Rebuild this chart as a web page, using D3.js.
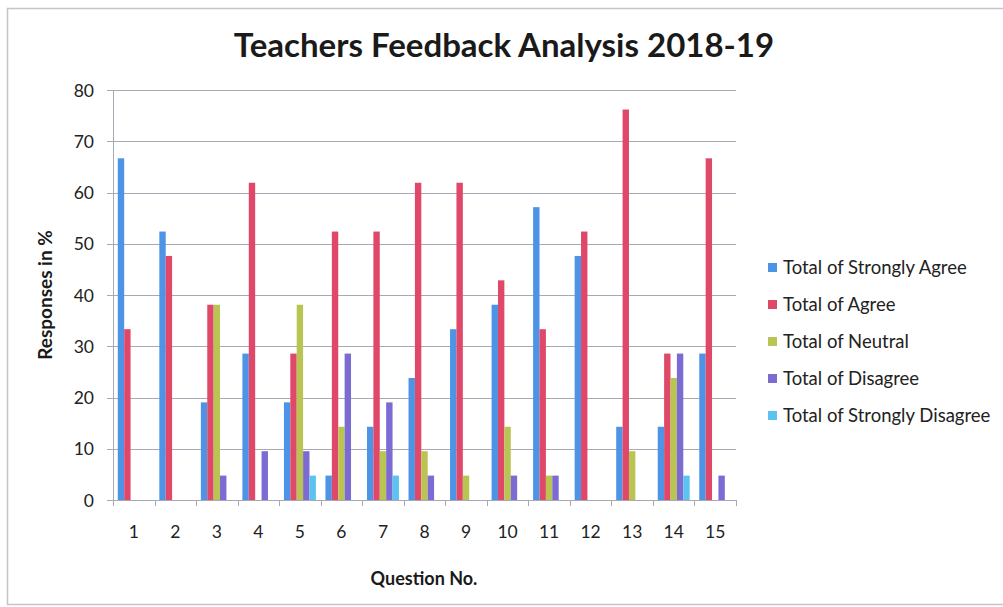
<!DOCTYPE html>
<html>
<head>
<meta charset="utf-8">
<script src="https://cdn.jsdelivr.net/npm/d3@7"></script>
<style>
  html, body { margin: 0; padding: 0; background: #fff; }
  svg { display: block; font-family: Lato, "Open Sans", sans-serif; }
</style>
</head>
<body>
<svg id="chart"></svg>
<script>
// Teachers feedback bar chart (grouped bars, one group per question)

const width = 1003;
const height = 607;

// data (percent of respondents)
const questions = ["1","2","3","4","5","6","7","8","9","10","11","12","13","14","15"];
const seriesNames = [
  "Total of Strongly Agree",
  "Total of Agree",
  "Total of Neutral",
  "Total of Disagree",
  "Total of Strongly Disagree"
];
const stronglyAgree    = [66.67, 52.38, 19.05, 28.57, 19.05, 4.76, 14.29, 23.81, 33.33, 38.10, 57.14, 47.62, 14.29, 14.29, 28.57];
const agree            = [33.33, 47.62, 38.10, 61.90, 28.57, 52.38, 52.38, 61.90, 61.90, 42.86, 33.33, 52.38, 76.19, 28.57, 66.67];
const neutral          = [0, 0, 38.10, 0, 38.10, 14.29, 9.52, 9.52, 4.76, 14.29, 4.76, 0, 9.52, 23.81, 0];
const disagree         = [0, 0, 4.76, 9.52, 9.52, 28.57, 19.05, 4.76, 0, 4.76, 4.76, 0, 0, 28.57, 4.76];
const stronglyDisagree = [0, 0, 0, 0, 4.76, 0, 4.76, 0, 0, 0, 0, 0, 0, 4.76, 0];
const yTicks = [0, 10, 20, 30, 40, 50, 60, 70, 80];

const allSeries = [stronglyAgree, agree, neutral, disagree, stronglyDisagree];
const colors = ["#4d94e6", "#e0486a", "#b9c452", "#7b6bd3", "#5cc3f0"];

const svg = d3.select("#chart")
  .attr("width", width)
  .attr("height", height);

// chart frame (scanned look)
svg.append("rect")
  .attr("x", 7.5).attr("y", 8.5)
  .attr("width", width + 10).attr("height", 596)
  .attr("fill", "#fff")
  .attr("stroke", "#c4c4cc")
  .attr("stroke-width", 1.5);

const plot = { left: 113, right: 736, top: 90, bottom: 500 };

const x = d3.scaleBand()
  .domain(questions)
  .range([plot.left, plot.right]);

// 5 bars + 150% gap => 6.5 bar widths per category
const barW = x.bandwidth() / 6.5;

const y = d3.scaleLinear()
  .domain([0, 80])
  .range([plot.bottom, plot.top]);

// gridlines
svg.append("g")
  .selectAll("line")
  .data(yTicks)
  .enter()
  .append("line")
  .attr("x1", plot.left - 6)
  .attr("x2", plot.right)
  .attr("y1", function (d) { return Math.round(y(d)) + 0.5; })
  .attr("y2", function (d) { return Math.round(y(d)) + 0.5; })
  .attr("stroke", "#a9a9b5")
  .attr("stroke-width", 1);

// y axis labels
svg.append("g")
  .selectAll("text")
  .data(yTicks)
  .enter()
  .append("text")
  .attr("x", 94)
  .attr("y", function (d) { return y(d) + 6.5; })
  .attr("text-anchor", "end")
  .attr("font-size", 17.5)
  .attr("fill", "#222")
  .text(function (d) { return d; });

// vertical axis line
svg.append("line")
  .attr("x1", plot.left + 0.5).attr("x2", plot.left + 0.5)
  .attr("y1", plot.top).attr("y2", plot.bottom)
  .attr("stroke", "#a9a9b5");

// category tick marks
svg.append("g")
  .selectAll("line")
  .data(questions.concat(["end"]))
  .enter()
  .append("line")
  .attr("x1", function (d, i) { return Math.round(plot.left + i * x.step()) + 0.5; })
  .attr("x2", function (d, i) { return Math.round(plot.left + i * x.step()) + 0.5; })
  .attr("y1", plot.bottom)
  .attr("y2", plot.bottom + 6)
  .attr("stroke", "#a9a9b5");

// bars
const groups = svg.append("g")
  .selectAll("g")
  .data(allSeries)
  .enter()
  .append("g")
  .attr("fill", function (d, i) { return colors[i]; });

groups.each(function (vals, si) {
  d3.select(this).selectAll("rect")
    .data(vals)
    .enter()
    .append("rect")
    .attr("x", function (d, i) { return x(questions[i]) + barW * 0.75 + si * barW; })
    .attr("width", barW)
    .attr("y", function (d) { return y(d); })
    .attr("height", function (d) { return plot.bottom - y(d); });
});

// category labels
svg.append("g")
  .selectAll("text")
  .data(questions)
  .enter()
  .append("text")
  .attr("x", function (d) { return x(d) + x.bandwidth() / 2; })
  .attr("y", 538)
  .attr("text-anchor", "middle")
  .attr("font-size", 17.5)
  .attr("fill", "#222")
  .text(function (d) { return d; });

// title
svg.append("text")
  .attr("x", 504)
  .attr("y", 57)
  .attr("text-anchor", "middle")
  .attr("font-size", 33)
  .attr("font-weight", "bold")
  .attr("fill", "#1a1a1a")
  .text("Teachers Feedback Analysis 2018-19");

// axis titles
svg.append("text")
  .attr("transform", "translate(52,295) rotate(-90)")
  .attr("text-anchor", "middle")
  .attr("font-size", 19)
  .attr("font-weight", "bold")
  .attr("fill", "#1a1a1a")
  .text("Responses in %");

svg.append("text")
  .attr("x", 424)
  .attr("y", 585)
  .attr("text-anchor", "middle")
  .attr("font-size", 18)
  .attr("font-weight", "bold")
  .attr("fill", "#1a1a1a")
  .text("Question No.");

// legend
const legend = svg.append("g")
  .selectAll("g")
  .data(seriesNames)
  .enter()
  .append("g")
  .attr("transform", function (d, i) { return "translate(768," + (268 + i * 37) + ")"; });

legend.append("rect")
  .attr("x", 0).attr("y", -5)
  .attr("width", 9).attr("height", 9)
  .attr("fill", function (d, i) { return colors[i]; });

legend.append("text")
  .attr("x", 15)
  .attr("y", 6)
  .attr("font-size", 18.5)
  .attr("fill", "#222")
  .text(function (d) { return d; });
</script>
</body>
</html>
